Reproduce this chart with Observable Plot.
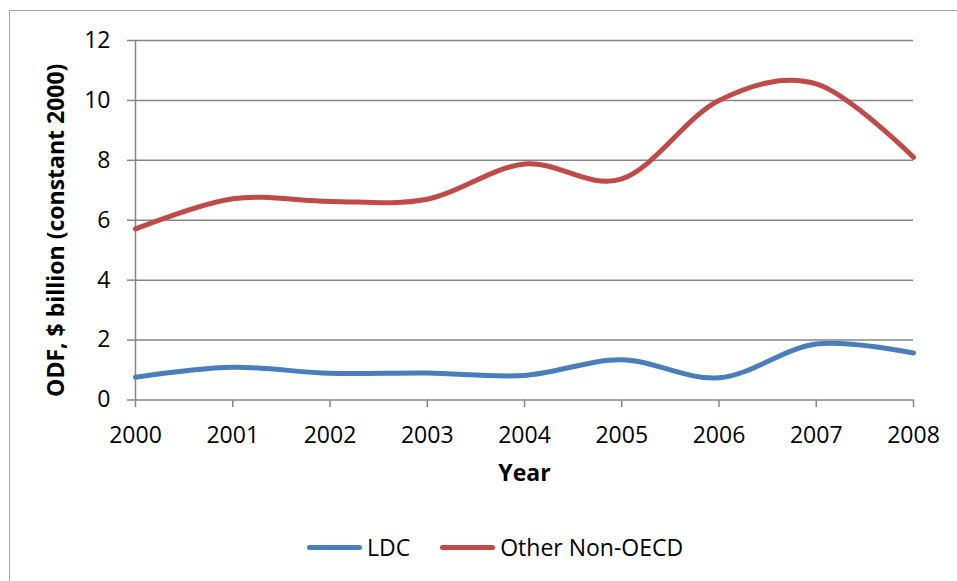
<!DOCTYPE html>
<html>
<head>
<meta charset="utf-8">
<script src="https://cdn.jsdelivr.net/npm/d3@7"></script>
<script src="https://cdn.jsdelivr.net/npm/@observablehq/plot@0.6"></script>
<style>
  html, body { margin: 0; padding: 0; background: #fff; }
  body { width: 957px; height: 581px; position: relative; overflow: hidden; font-family: "Open Sans", sans-serif; }
  #frame { position: absolute; left: 9px; top: 10px; width: 980px; height: 600px; border: 1.5px solid #a6a6a6; box-sizing: border-box; }
  #chart { position: absolute; left: 0; top: 0; }
  #legend { position: absolute; top: 531px; left: 307px; display: flex; align-items: center; font-size: 23px; line-height: 32px; color: #000; white-space: nowrap; }
  .sw { display: inline-block; width: 55px; height: 5px; border-radius: 3px; margin-right: 5px; }
  .item { display: flex; align-items: center; margin-right: 30px; }
</style>
</head>
<body>
<div id="frame"></div>
<div id="chart"></div>
<div id="legend"></div>
<script>
const years = [2000, 2001, 2002, 2003, 2004, 2005, 2006, 2007, 2008];
const ldc = [0.76, 1.09, 0.89, 0.9, 0.82, 1.34, 0.74, 1.87, 1.57];
const otherNonOecd = [5.71, 6.72, 6.63, 6.7, 7.88, 7.38, 10.0, 10.55, 8.1];
const seriesNames = ["LDC", "Other Non-OECD"];
const seriesColors = ["#4a7ebb", "#be4b48"];
const yTicks = [0, 2, 4, 6, 8, 10, 12];
const yTitle = "ODF, $ billion (constant 2000)";
const xTitle = "Year";

const rows = [];
years.forEach((yr, i) => {
  rows.push({year: yr, value: ldc[i], series: seriesNames[0]});
  rows.push({year: yr, value: otherNonOecd[i], series: seriesNames[1]});
});

const gridColor = "#868686";

const plot = Plot.plot({
  width: 957,
  height: 500,
  marginTop: 40,
  marginBottom: 100.5,
  marginLeft: 135,
  marginRight: 44,
  style: {fontFamily: "'Open Sans', sans-serif", fontSize: "23px", color: "#000", background: "transparent", overflow: "visible"},
  x: {domain: [2000, 2008]},
  y: {domain: [0, 12]},
  color: {domain: seriesNames, range: seriesColors},
  marks: [
    Plot.gridY(yTicks, {stroke: gridColor, strokeOpacity: 1, strokeWidth: 1.5}),
    Plot.ruleX([2000], {stroke: gridColor, strokeWidth: 1.5}),
    Plot.axisY(yTicks, {tickSize: 8, tickPadding: 17, stroke: gridColor, strokeWidth: 1.5, label: null, tickFormat: d => String(d)}),
    Plot.axisX(years, {tickSize: 7.5, tickPadding: 19, stroke: gridColor, strokeWidth: 1.5, label: null, tickFormat: d => String(d)}),
    Plot.line(rows, {x: "year", y: "value", z: "series", stroke: "series", strokeWidth: 5, curve: "cardinal", strokeLinejoin: "round"}),
    Plot.text([yTitle], {frameAnchor: "left", textAnchor: "middle", dx: -79, dy: 10, rotate: -90, fontWeight: "bold", fontSize: 23, text: d => d}),
    Plot.text([xTitle], {frameAnchor: "bottom", dy: 81, fontWeight: "bold", fontSize: 23, text: d => d})
  ]
});
document.getElementById("chart").appendChild(plot);

const legend = document.getElementById("legend");
seriesNames.forEach((name, i) => {
  const item = document.createElement("span");
  item.className = "item";
  const sw = document.createElement("span");
  sw.className = "sw";
  sw.style.background = seriesColors[i];
  item.appendChild(sw);
  item.appendChild(document.createTextNode(name));
  legend.appendChild(item);
});
</script>
</body>
</html>
